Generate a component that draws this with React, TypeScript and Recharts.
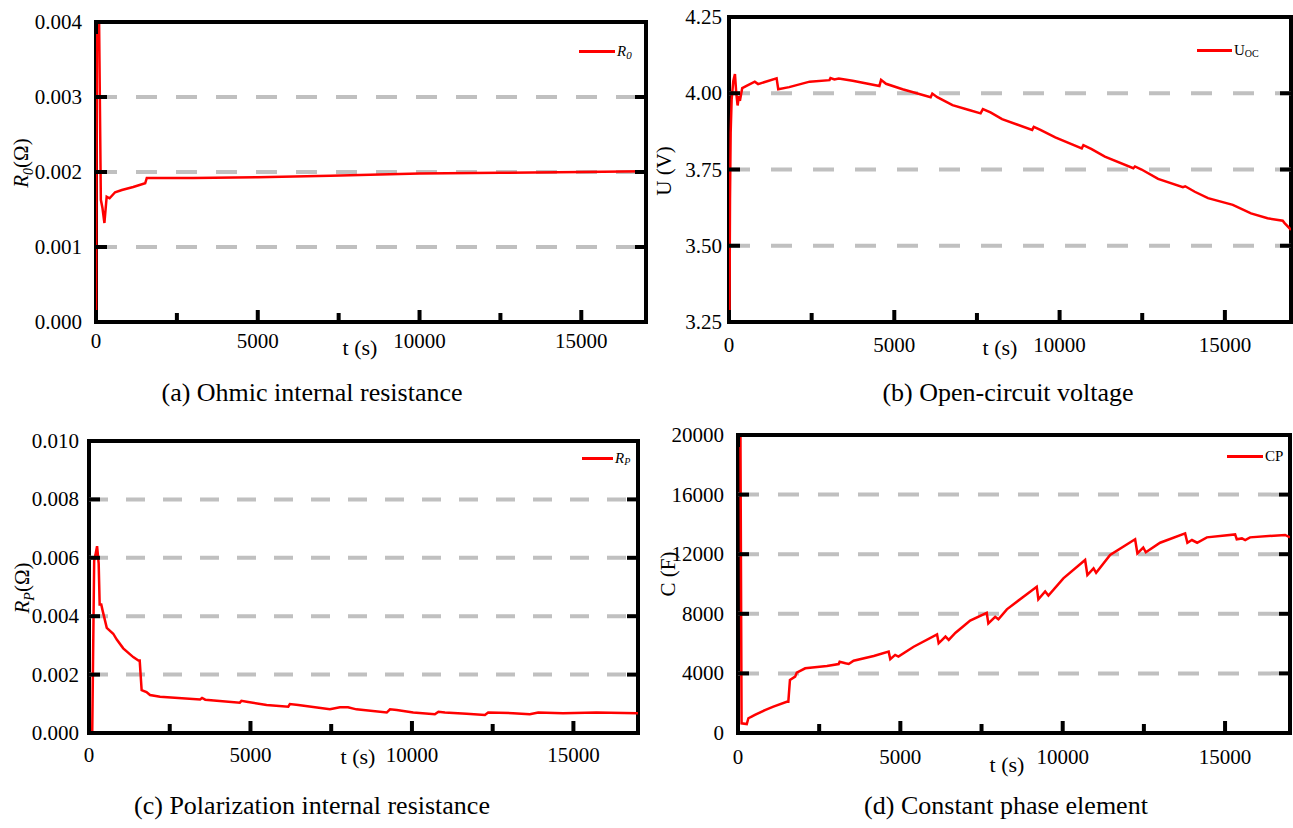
import { LineChart, Line, XAxis, YAxis, CartesianGrid } from "recharts";

const SERIF = '"Liberation Serif", "Times New Roman", Times, serif';
const RED = "#ff0000";

// time axis (s), shared by the four panels
const timeTicks = [0, 2500, 5000, 7500, 10000, 12500, 15000];
const timeDomain: [number, number] = [0, 17000];

// (a) ohmic internal resistance R0 [t, value]
const r0Points: [number, number][] = [
  [0, 0], [45, 0.0062], [150, 0.00163], [200, 0.00152], [260, 0.00132],
  [330, 0.00167], [420, 0.00165], [590, 0.00173], [800, 0.00176],
  [1150, 0.0018], [1520, 0.00185], [1570, 0.00192], [1880, 0.00192],
  [3000, 0.00192], [5000, 0.00193], [7250, 0.00195], [10000, 0.00198],
  [12500, 0.00199], [15000, 0.002], [17000, 0.00201],
];
const r0Ticks = [0, 0.001, 0.002, 0.003, 0.004];
const r0Grid = [0.001, 0.002, 0.003];

// (b) open-circuit voltage Uoc
const uocPoints: [number, number][] = [
  [0, 2.9], [30, 3.65], [50, 3.87], [80, 3.98], [130, 4.04], [180, 4.063],
  [220, 4.0], [260, 3.96], [300, 3.99], [330, 3.975], [400, 4.017],
  [530, 4.024], [780, 4.038], [880, 4.03], [1440, 4.049], [1490, 4.013],
  [1820, 4.02], [2440, 4.038], [3040, 4.043], [3070, 4.05], [3190, 4.045],
  [3320, 4.048], [3740, 4.041], [4550, 4.024], [4600, 4.044], [4750, 4.031],
  [5250, 4.013], [6100, 3.987], [6150, 3.999], [6300, 3.987], [6760, 3.961],
  [7260, 3.945], [7610, 3.934], [7680, 3.948], [7910, 3.937], [8260, 3.915],
  [9170, 3.88], [9220, 3.89], [9420, 3.88], [9870, 3.855], [10670, 3.819],
  [10720, 3.83], [10970, 3.817], [11370, 3.792], [12230, 3.754],
  [12280, 3.76], [12480, 3.75], [12980, 3.719], [13730, 3.692],
  [13800, 3.695], [14090, 3.677], [14490, 3.656], [15240, 3.634],
  [15790, 3.606], [16290, 3.59], [16750, 3.582], [16800, 3.575], [17000, 3.552],
];
const uocTicks = [3.25, 3.5, 3.75, 4.0, 4.25];
const uocGrid = [3.5, 3.75, 4.0];

// (c) polarization internal resistance Rp
const rpPoints: [number, number][] = [
  [0, 0], [100, 0], [160, 0.0059], [200, 0.0061], [250, 0.0064],
  [300, 0.0058], [330, 0.0044], [380, 0.0044], [420, 0.0042], [550, 0.0036],
  [750, 0.0034], [860, 0.0032], [1060, 0.0029], [1370, 0.0026],
  [1530, 0.00248], [1570, 0.00248], [1630, 0.00147], [1780, 0.0014],
  [1890, 0.0013], [2200, 0.00124], [3440, 0.00115], [3500, 0.0012],
  [3600, 0.00114], [4670, 0.00104], [4720, 0.0011], [4880, 0.00107],
  [5500, 0.00096], [6170, 0.0009], [6220, 0.00099], [6480, 0.00096],
  [7460, 0.00081], [7770, 0.00088], [8020, 0.00088], [8280, 0.00081],
  [9220, 0.0007], [9320, 0.00081], [9530, 0.00079], [10040, 0.0007],
  [10710, 0.00064], [10820, 0.00073], [11020, 0.0007], [11690, 0.00066],
  [12260, 0.00062], [12360, 0.0007], [13130, 0.00068], [13650, 0.00064],
  [13910, 0.0007], [14680, 0.00068], [15710, 0.0007], [17000, 0.00068],
];
const rpTicks = [0, 0.002, 0.004, 0.006, 0.008, 0.01];
const rpGrid = [0.002, 0.004, 0.006, 0.008];

// (d) constant phase element CP
const cpPoints: [number, number][] = [
  [0, 40000], [40, 40000], [110, 650], [270, 600], [320, 990], [420, 1100],
  [520, 1210], [830, 1540], [1090, 1770], [1500, 2100], [1550, 2100],
  [1600, 3560], [1760, 3780], [1810, 4050], [2070, 4340], [2740, 4500],
  [3100, 4630], [3130, 4780], [3310, 4680], [3410, 4630], [3560, 4850],
  [4180, 5170], [4640, 5460], [4690, 4950], [4840, 5240], [4940, 5130],
  [5410, 5790], [6130, 6620], [6180, 6020], [6390, 6470], [6490, 6250],
  [6700, 6730], [6950, 7180], [7150, 7550], [7660, 8070], [7710, 7360],
  [7920, 7800], [8020, 7630], [8280, 8300], [9200, 9820], [9250, 8970],
  [9460, 9500], [9560, 9230], [10020, 10380], [10690, 11610], [10760, 10600],
  [10950, 11050], [11030, 10750], [11460, 11950], [12230, 13000],
  [12300, 12060], [12480, 12450], [12560, 12130], [13000, 12770],
  [13770, 13400], [13840, 12770], [13980, 12950], [14140, 12770],
  [14440, 13130], [15310, 13330], [15360, 13000], [15520, 13060],
  [15620, 12950], [15770, 13130], [16850, 13290], [17000, 13130],
];
const cpTicks = [0, 4000, 8000, 12000, 16000, 20000];
const cpGrid = [4000, 8000, 12000, 16000];

const labelStyle = { fontFamily: SERIF, fontSize: 21, fill: "#000" };
const TW = 4; // frame and tick thickness

function bottomTick(dy: number) {
  return (props: any) => {
    const { x, y, payload } = props;
    const major = payload.value % 5000 === 0;
    return (
      <g>
        <line x1={x} y1={y} x2={x} y2={y - (major ? 12 : 9)} stroke="#000" strokeWidth={TW} />
        {major && (
          <text x={x} y={y + dy} textAnchor="middle" dominantBaseline="central" style={labelStyle}>
            {payload.value}
          </text>
        )}
      </g>
    );
  };
}

function topTick(props: any) {
  const { x, y, payload } = props;
  const major = payload.value % 5000 === 0;
  return <line x1={x} y1={y} x2={x} y2={y + (major ? 12 : 10)} stroke="#000" strokeWidth={TW} />;
}

function leftTick(gap: number, fmt: (v: number) => string) {
  return (props: any) => {
    const { x, y, payload } = props;
    return (
      <g>
        <line x1={x} y1={y} x2={x + 11} y2={y} stroke="#000" strokeWidth={TW} />
        <text x={x - gap} y={y} textAnchor="end" dominantBaseline="central" style={labelStyle}>
          {fmt(payload.value)}
        </text>
      </g>
    );
  };
}

function rightTick(props: any) {
  const { x, y } = props;
  return <line x1={x} y1={y} x2={x - 11} y2={y} stroke="#000" strokeWidth={TW} />;
}

type PanelProps = {
  l: number; t: number; r: number; b: number;
  points: [number, number][];
  ticks: number[];
  grid: number[];
  fmt: (v: number) => string;
  dash: string;
  xDy: number;
  yGap: number;
};

function Panel({ l, t, r, b, points, ticks, grid, fmt, dash, xDy, yGap }: PanelProps) {
  const data = points.map(([time, v]) => ({ t: time, v }));
  const domain: [number, number] = [ticks[0], ticks[ticks.length - 1]];
  const w = r - l + 110;
  const h = b - t + 70;
  return (
    <>
      {/* plot frame */}
      <div style={{
        position: "absolute", left: l - TW / 2, top: t - TW / 2, width: r - l - TW, height: b - t - TW,
        border: `${TW}px solid #000`,
      }} />
      <div style={{ position: "absolute", left: l - 90, top: t - 20 }}>
        <LineChart width={w} height={h} data={data} margin={{ top: 19, right: 19, bottom: 0, left: 0 }}>
          <CartesianGrid vertical={false} horizontalValues={grid} stroke="#c0c0c0"
            strokeWidth={4} strokeDasharray={dash} />
          <XAxis dataKey="t" type="number" domain={timeDomain} allowDataOverflow ticks={timeTicks}
            height={50} tickSize={0} tickMargin={0} axisLine={false} tick={bottomTick(xDy)} />
          <XAxis xAxisId="top" orientation="top" type="number" domain={timeDomain} allowDataOverflow
            ticks={timeTicks} height={1} tickSize={0} tickMargin={0} axisLine={false} tick={topTick} />
          <YAxis type="number" domain={domain} allowDataOverflow ticks={ticks} width={90}
            tickSize={0} tickMargin={0} axisLine={false} tick={leftTick(yGap, fmt)} />
          <YAxis yAxisId="right" orientation="right" type="number" domain={domain} allowDataOverflow
            ticks={ticks} width={1} tickSize={0} tickMargin={0} axisLine={false} tick={rightTick} />
          <Line dataKey="v" type="linear" stroke={RED} strokeWidth={2.5} dot={false}
            isAnimationActive={false} />
        </LineChart>
      </div>
    </>
  );
}

function Txt({ x, y, size, rotate, children }: { x: number; y: number; size: number; rotate?: boolean; children: any }) {
  return (
    <div style={{
      position: "absolute", left: x, top: y, lineHeight: 1, whiteSpace: "nowrap",
      transform: `translate(-50%, -50%)${rotate ? " rotate(-90deg)" : ""}`,
      fontFamily: SERIF, fontSize: size, color: "#000",
    }}>
      {children}
    </div>
  );
}

function Key({ x, y, len, children }: { x: number; y: number; len: number; children: any }) {
  return (
    <div style={{
      position: "absolute", left: x, top: y - 10, height: 20, display: "flex", alignItems: "center",
      fontFamily: SERIF, fontSize: 15, whiteSpace: "nowrap", color: "#000",
    }}>
      <span style={{ display: "inline-block", width: len, height: 3, background: RED, marginRight: 2 }} />
      {children}
    </div>
  );
}

const sub = (s: string, italic: boolean, size: number) => (
  <span style={{ fontSize: size, fontStyle: italic ? "italic" : "normal", position: "relative", top: size * 0.35 }}>{s}</span>
);

export default function App() {
  return (
    <div style={{ position: "absolute", left: 0, top: 0, width: 1293, height: 828, background: "#fff", overflow: "hidden" }}>
      <Panel l={96} t={22} r={646} b={322} points={r0Points} ticks={r0Ticks} grid={r0Grid}
        fmt={(v) => v.toFixed(3)} dash="21 19" xDy={19} yGap={14} />
      <Panel l={729} t={17} r={1291} b={322} points={uocPoints} ticks={uocTicks} grid={uocGrid}
        fmt={(v) => v.toFixed(2)} dash="21 21" xDy={23} yGap={7} />
      <Panel l={89} t={441} r={638} b={733} points={rpPoints} ticks={rpTicks} grid={rpGrid}
        fmt={(v) => v.toFixed(3)} dash="19 18" xDy={22} yGap={10} />
      <Panel l={738} t={435} r={1290} b={733} points={cpPoints} ticks={cpTicks} grid={cpGrid}
        fmt={(v) => String(v)} dash="21 19" xDy={24} yGap={14} />

      {/* axis titles */}
      <Txt x={21} y={163} size={21} rotate><i>R</i>{sub("0", true, 14)}(Ω)</Txt>
      <Txt x={664} y={171} size={21} rotate>U (V)</Txt>
      <Txt x={22} y={588} size={21} rotate><i>R</i>{sub("P", true, 14)}(Ω)</Txt>
      <Txt x={668} y={574} size={21} rotate>C (F)</Txt>
      <Txt x={360} y={348} size={22}>t (s)</Txt>
      <Txt x={1000} y={348} size={22}>t (s)</Txt>
      <Txt x={358} y={757} size={22}>t (s)</Txt>
      <Txt x={1007} y={765} size={22}>t (s)</Txt>

      {/* legends */}
      <Key x={579} y={51} len={36}><i>R</i>{sub("0", true, 11)}</Key>
      <Key x={1197} y={50} len={35}>U{sub("OC", false, 10)}</Key>
      <Key x={582} y={458} len={31}><i>R</i>{sub("P", true, 10)}</Key>
      <Key x={1227} y={456} len={36}>CP</Key>

      {/* captions */}
      <Txt x={312} y={393} size={26}>(a) Ohmic internal resistance</Txt>
      <Txt x={1008} y={393} size={26}>(b) Open-circuit voltage</Txt>
      <Txt x={312} y={806} size={26}>(c) Polarization internal resistance</Txt>
      <Txt x={1006} y={806} size={26}>(d) Constant phase element</Txt>
    </div>
  );
}
